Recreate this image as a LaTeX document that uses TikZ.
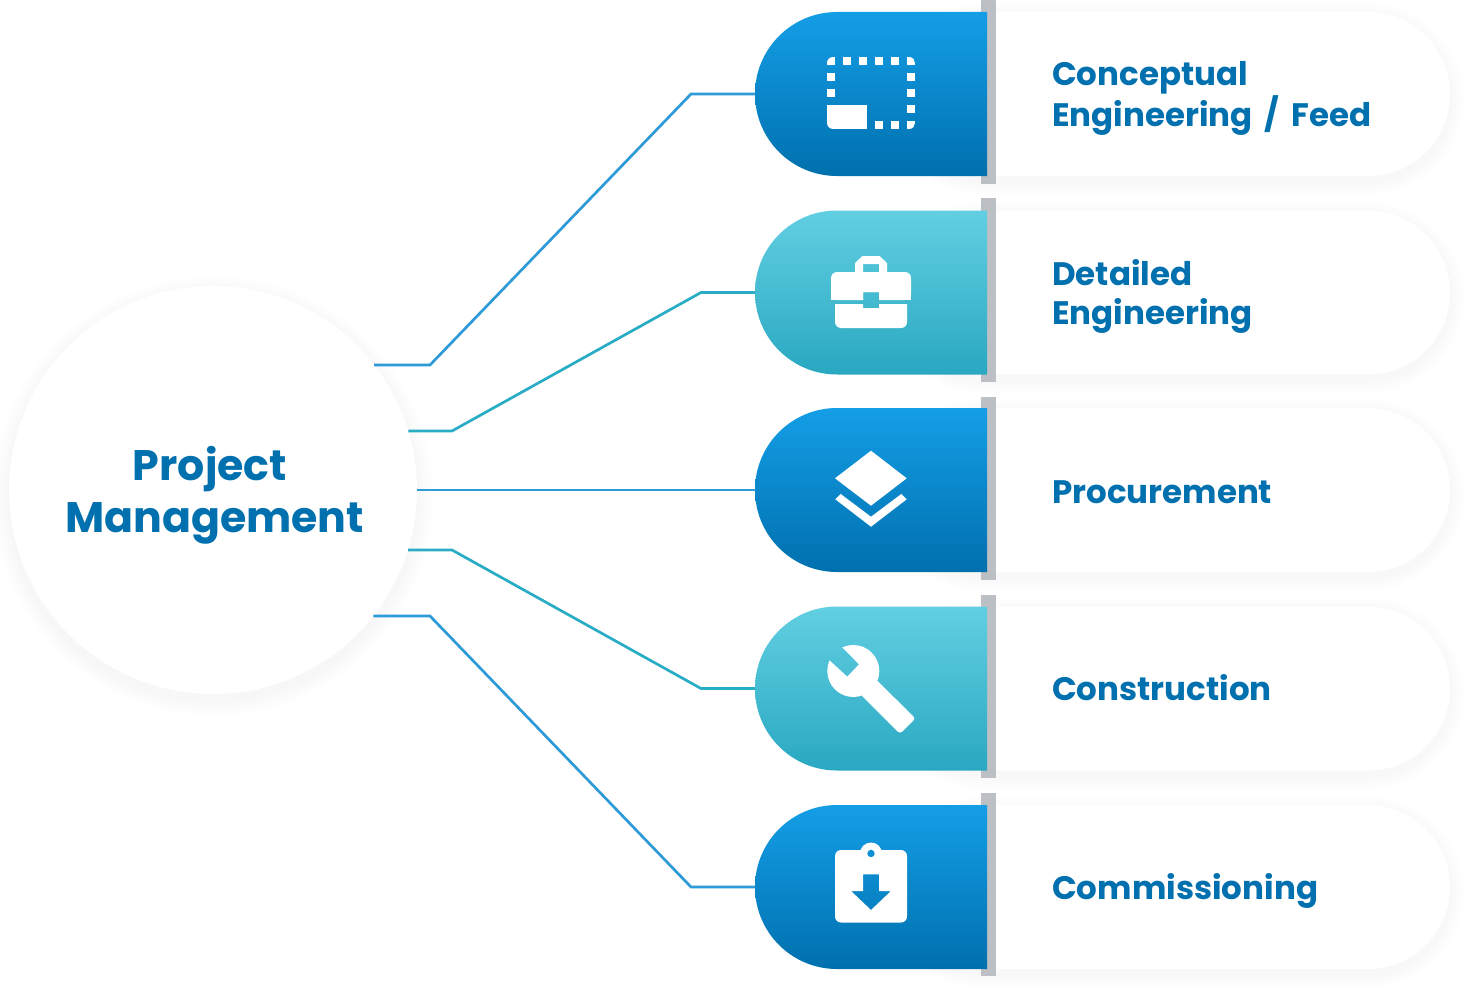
\documentclass[tikz,border=0pt]{standalone}
\usepackage{fontspec}
\setmainfont{Poppins}
\usetikzlibrary{shapes.misc}
\definecolor{inkblue}{HTML}{0070AE}
\definecolor{blueTop}{HTML}{149EE6}
\definecolor{blueLow}{HTML}{0070AE}
\definecolor{tealTop}{HTML}{62CFE2}
\definecolor{tealLow}{HTML}{29A8C1}
\definecolor{barGrey}{HTML}{BCC0C4}
\definecolor{wireBlue}{HTML}{2F9AD8}
\definecolor{wireTeal}{HTML}{29ADC5}
\tikzset{
  x=1pt,y=-1pt,
  tagbase/.style={rounded rectangle,rounded rectangle right arc=none,anchor=west,
    minimum width=232pt,minimum height=164pt,inner sep=0pt,outer sep=0pt,draw=none},
  bluetag/.style={tagbase,top color=blueTop,bottom color=blueLow},
  tealtag/.style={tagbase,top color=tealTop,bottom color=tealLow},
  cardshape/.style={rounded rectangle,rounded rectangle left arc=none,anchor=west,
    minimum width=463pt,minimum height=164pt,inner sep=0pt,outer sep=0pt,fill=white},
  divider/.style={fill=barGrey,draw=none},
  cardtext/.style={anchor=base west,align=left,text=inkblue,inner sep=0pt,
    font=\fontsize{32.5}{39}\selectfont\bfseries},
  hubshape/.style={circle,minimum size=408pt,inner sep=0pt,outer sep=0pt,fill=white},
  hubtext/.style={align=center,text=inkblue,inner sep=0pt,
    font=\fontsize{42.7}{52}\selectfont\bfseries},
  wireb/.style={draw=wireBlue,line width=2.7pt,line join=miter},
  wiret/.style={draw=wireTeal,line width=2.7pt,line join=miter},
  glyph/.style={fill=white,draw=none},
}
% soft drop shadow built from stacked translucent outlines
\newcommand\pillshadow[4]{%
  \foreach \g in {2,4,...,14}{
    \fill[black,opacity=.004,rounded corners={(82+\g)*1pt}]
      ({#1-\g},{#2-\g+5}) rectangle ({#3+\g},{#4+\g+5});
  }}
\begin{document}
\begin{tikzpicture}
\useasboundingbox (0,0) rectangle (1470,990);
\fill[white] (0,0) rectangle (1470,990);

% shadows
\foreach \g in {2,4,...,16}{
  \fill[black,opacity=.004] (213,496) circle[radius={(204+\g)*1pt}];
}
\foreach \c in {94,292.5,490,688.5,887}{
  \pillshadow{900}{\c-82}{1450}{\c+82}
}

% central hub
\node[hubshape] (hub) at (213,490) {};
\node[hubtext] (hublabel) at (214.5,495) {Project\hspace*{9pt}\\Management};

% white cards
\node[cardshape] (card1) at (987,94) {};
\node[cardshape] (card2) at (987,292.5) {};
\node[cardshape] (card3) at (987,490) {};
\node[cardshape] (card4) at (987,688.5) {};
\node[cardshape] (card5) at (987,887) {};

% grey dividers
\fill[divider] (981,0) rectangle (996,184);
\fill[divider] (981,198) rectangle (996,382);
\fill[divider] (981,397) rectangle (996,580);
\fill[divider] (981,595) rectangle (996,778);
\fill[divider] (981,793) rectangle (996,976);

% coloured tags
\node[bluetag] (tag1) at (755,94) {};
\node[tealtag] (tag2) at (755,292.5) {};
\node[bluetag] (tag3) at (755,490) {};
\node[tealtag] (tag4) at (755,688.5) {};
\node[bluetag] (tag5) at (755,887) {};

% connector start points on the hub rim, and bends
\coordinate (s1) at (374.2,365);
\coordinate (s2) at (408.3,431);
\coordinate (s4) at (408,550);
\coordinate (s5) at (373.4,616);
\coordinate (b1a) at (430,365);
\coordinate (b1b) at (691,94);
\coordinate (b2a) at (452,431);
\coordinate (b2b) at (701,292.5);
\coordinate (b4a) at (452,550);
\coordinate (b4b) at (701,688.5);
\coordinate (b5a) at (430,616);
\coordinate (b5b) at (691,887);

% connectors
\draw[wireb] (s1) -- (b1a) -- (b1b) -- (tag1.west);
\draw[wiret] (s2) -- (b2a) -- (b2b) -- (tag2.west);
\draw[wireb] (hub.east) -- (tag3.west);
\draw[wiret] (s4) -- (b4a) -- (b4b) -- (tag4.west);
\draw[wireb] (s5) -- (b5a) -- (b5b) -- (tag5.west);

% labels
\node[cardtext] (txt1) at (1052,126) {Conceptual\\Engineering\hspace{5pt} / \hspace{5pt}Feed};
\node[cardtext] (txt2) at (1052,324.5) {Detailed\\Engineering};
\node[cardtext] (txt3) at (1052,503) {Procurement};
\node[cardtext] (txt4) at (1052,700.5) {Construction};
\node[cardtext] (txt5) at (1052,899) {Commissioning};

% icon: dotted frame with filled corner
\begin{scope}
  \clip[rounded corners=6pt] (827,57) rectangle (915,129);
  \foreach \x in {827,843,859,875,891,907} \fill[glyph] (\x,57) rectangle ++(8,8);
  \foreach \y in {73,89} \fill[glyph] (827,\y) rectangle ++(8,8);
  \foreach \y in {73,89,105} \fill[glyph] (907,\y) rectangle ++(8,8);
  \foreach \x in {875,891,907} \fill[glyph] (\x,121) rectangle ++(8,8);
  \fill[glyph] (827,105) rectangle (867,129);
\end{scope}

% icon: briefcase
\fill[glyph,even odd rule] (855,273) -- (855,263) -- (862.5,256) -- (879.5,256) -- (887,263) -- (887,273) -- cycle
  (863,264) rectangle (879,273);
\begin{scope}[even odd rule]
  \clip (820,250) rectangle (920,335) (863,292) rectangle (879,308);
  \fill[glyph,rounded corners=6pt] (831,272) rectangle (911,300);
  \fill[glyph] (831,290) rectangle (911,300);
  \begin{scope}
    \clip (830,304) rectangle (912,330);
    \fill[glyph,rounded corners=6pt] (835,290) rectangle (907,328);
  \end{scope}
\end{scope}

% icon: layers
\fill[glyph] (871,450.7) -- (906.7,478.3) -- (871,505.7) -- (835,478.3) -- cycle;
\fill[glyph] (871,526.7) -- (835.3,499.3) -- (840.7,494) -- (871,516.7) -- (901.3,494) -- (906.7,499.3) -- cycle;

% icon: wrench
\begin{scope}[even odd rule]
  \clip (800,630) rectangle (930,750)
    (830,635) -- (859,664.3) -- (847.3,676.7) -- (815,647) -- cycle;
  \fill[glyph] (853.3,671) circle[radius=26pt];
\end{scope}
\fill[glyph,rounded corners=3pt] (875,678.5) -- (915.5,718.5) -- (900,733.8) -- (860,694) -- cycle;

% icon: clipboard with arrow
\begin{scope}[even odd rule]
  \clip (825,835) rectangle (917,930)
    (871,853.5) circle[radius=4pt]
    (863,874.3) -- (879,874.3) -- (879,891) -- (891,891) -- (871,910) -- (851,891) -- (863,891) -- cycle;
  \fill[glyph] (871,853.5) circle[radius=11pt];
  \fill[glyph,rounded corners=6pt] (835,850) rectangle (907,922.5);
\end{scope}
\end{tikzpicture}
\end{document}
